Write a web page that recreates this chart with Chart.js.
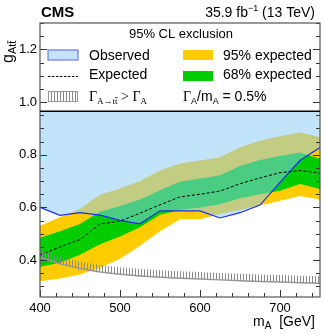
<!DOCTYPE html>
<html>
<head>
<meta charset="utf-8">
<script src="https://cdn.jsdelivr.net/npm/chart.js@4/dist/chart.umd.min.js"></script>
<style>
  html, body { margin: 0; padding: 0; background: #fff; }
</style>
</head>
<body>
<canvas id="myChart" width="324" height="335"></canvas>
<script>
const masses     = [400, 425, 450, 475, 500, 525, 550, 575, 600, 625, 650, 675, 700, 725, 750];
const observed   = [0.600, 0.570, 0.580, 0.571, 0.551, 0.538, 0.587, 0.587, 0.587, 0.560, 0.580, 0.609, 0.695, 0.778, 0.827];
const expected   = [0.420, 0.450, 0.478, 0.537, 0.548, 0.578, 0.610, 0.640, 0.650, 0.662, 0.690, 0.712, 0.732, 0.740, 0.730];
const band68Up   = [0.485, 0.510, 0.537, 0.585, 0.605, 0.630, 0.665, 0.697, 0.710, 0.722, 0.757, 0.780, 0.795, 0.808, 0.785];
const band68Lo   = [0.375, 0.390, 0.420, 0.460, 0.490, 0.525, 0.572, 0.590, 0.600, 0.612, 0.635, 0.650, 0.663, 0.689, 0.670];
const band95Up   = [0.530, 0.563, 0.595, 0.648, 0.672, 0.700, 0.740, 0.767, 0.778, 0.790, 0.828, 0.853, 0.870, 0.885, 0.866];
const band95Lo   = [0.320, 0.330, 0.345, 0.370, 0.405, 0.455, 0.510, 0.555, 0.555, 0.575, 0.590, 0.607, 0.625, 0.643, 0.630];
const widthLimit = [0.410, 0.386, 0.368, 0.355, 0.346, 0.340, 0.335, 0.331, 0.328, 0.325, 0.322, 0.319, 0.317, 0.314, 0.312];
const xTickLabels = [400, 500, 600, 700];
const yTickLabels = [0.4, 0.6, 0.8, 1.0, 1.2];
const legendLineY = 0.965;

const pts = arr => arr.map((v, i) => ({ x: masses[i], y: v }));
const SANS = '"Liberation Sans", Arial, sans-serif';
const SERIF = '"Liberation Serif", "Times New Roman", serif';

const OBS_FILL = 'rgba(140, 204, 246, 0.53)';
const YELLOW = '#ffcc00';
const GREEN = '#00cc00';

function hatchPattern(ctx) {
  const c = document.createElement('canvas');
  c.width = 3; c.height = 4;
  const g = c.getContext('2d');
  g.fillStyle = '#8a8a8a';
  g.fillRect(0, 0, 1, 4);
  return ctx.createPattern(c, 'repeat');
}

// draws a run of text pieces (font, text, dy) left to right
function drawRun(ctx, x, y, parts) {
  ctx.textAlign = 'left';
  ctx.textBaseline = 'alphabetic';
  for (const p of parts) {
    ctx.font = p.size + 'px ' + p.family;
    ctx.fillText(p.t, x, y + (p.dy || 0));
    const w = ctx.measureText(p.t).width;
    if (p.bar) {
      const bw = ctx.measureText('t').width;
      ctx.fillRect(x + w - bw, y + (p.dy || 0) - p.size * 0.78, bw, 0.8);
    }
    x += w;
  }
  return x;
}

const decorations = {
  id: 'decorations',
  afterDatasetsDraw(chart) {
    const ctx = chart.ctx;
    const area = chart.chartArea;
    const p = chart.getDatasetMeta(2).data;
    ctx.save();
    ctx.beginPath();
    ctx.rect(area.left, area.top, area.right - area.left, area.bottom - area.top);
    ctx.clip();
    ctx.beginPath();
    ctx.moveTo(p[0].x, p[0].y);
    for (let i = 1; i < p.length; i++) ctx.lineTo(p[i].x, p[i].y);
    for (let i = p.length - 1; i >= 0; i--) ctx.lineTo(p[i].x, p[i].y - 7);
    ctx.closePath();
    ctx.fillStyle = hatchPattern(ctx);
    ctx.fill();
    ctx.restore();
  },
  afterDraw(chart) {
    const ctx = chart.ctx;
    const area = chart.chartArea;
    const xs = chart.scales.x, ys = chart.scales.y;
    ctx.save();

    // white legend area above the separator line
    const sepY = ys.getPixelForValue(legendLineY);
    ctx.fillStyle = '#fff';
    ctx.fillRect(area.left, area.top, area.right - area.left, sepY - area.top);

    // ticks on the inside of the frame
    ctx.strokeStyle = '#333';
    ctx.lineWidth = 1;
    ctx.beginPath();
    for (let m = 400; m <= 750; m += 20) {
      const x = Math.round(xs.getPixelForValue(m)) + 0.5;
      const len = m % 100 === 0 ? 7 : 4;
      ctx.moveTo(x, area.bottom); ctx.lineTo(x, area.bottom - len);
    }
    for (let k = 6; k <= 26; k++) {
      const y = Math.round(ys.getPixelForValue(k * 0.05)) + 0.5;
      const len = k % 4 === 0 ? 7 : 4;
      ctx.moveTo(area.left, y); ctx.lineTo(area.left + len, y);
      ctx.moveTo(area.right, y); ctx.lineTo(area.right - len, y);
    }
    ctx.stroke();

    // frame
    ctx.strokeStyle = '#555';
    ctx.lineWidth = 1.2;
    ctx.strokeRect(area.left, area.top, area.right - area.left, area.bottom - area.top);

    // separator line
    ctx.strokeStyle = '#000';
    ctx.lineWidth = 1.5;
    ctx.beginPath();
    ctx.moveTo(area.left, sepY); ctx.lineTo(area.right, sepY);
    ctx.stroke();

    // legend
    ctx.fillStyle = '#000';
    ctx.font = '13px ' + SANS;
    ctx.textAlign = 'center';
    ctx.fillText('95% CL exclusion', 181, 38);

    ctx.fillStyle = '#c4e3f8';
    ctx.fillRect(48, 50, 30, 10);
    ctx.strokeStyle = '#6a78f0';
    ctx.lineWidth = 1.2;
    ctx.strokeRect(48, 50, 30, 10);
    ctx.fillStyle = YELLOW;
    ctx.fillRect(183, 50, 30, 10);
    ctx.fillStyle = GREEN;
    ctx.fillRect(183, 71, 30, 10);

    ctx.strokeStyle = '#000';
    ctx.lineWidth = 1;
    ctx.setLineDash([2.5, 1.5]);
    ctx.beginPath();
    ctx.moveTo(48, 76.5); ctx.lineTo(78, 76.5);
    ctx.stroke();
    ctx.setLineDash([]);

    ctx.fillStyle = hatchPattern(ctx);
    ctx.fillRect(48, 91, 30, 10);
    ctx.strokeStyle = '#999';
    ctx.lineWidth = 1;
    ctx.strokeRect(48.5, 91.5, 29, 10);

    ctx.fillStyle = '#000';
    ctx.font = '14px ' + SANS;
    ctx.textAlign = 'left';
    ctx.fillText('Observed', 89, 60);
    ctx.fillText('Expected', 89, 79);
    ctx.fillText('95% expected', 223, 60);
    ctx.fillText('68% expected', 223, 79);

    drawRun(ctx, 89, 101, [
      { t: 'Γ', size: 14, family: SERIF },
      { t: 'A→tt', size: 9, family: SERIF, dy: 3, bar: true },
      { t: ' > Γ', size: 14, family: SERIF },
      { t: 'A', size: 9, family: SERIF, dy: 3 }
    ]);
    drawRun(ctx, 183, 101, [
      { t: 'Γ', size: 14, family: SERIF },
      { t: 'A', size: 9, family: SANS, dy: 3 },
      { t: '/m', size: 14, family: SANS },
      { t: 'A', size: 9, family: SANS, dy: 3 },
      { t: ' = 0.5%', size: 14, family: SANS }
    ]);

    // header texts
    ctx.font = 'bold 15px ' + SANS;
    ctx.fillText('CMS', 41, 17);
    ctx.font = '14px ' + SANS;
    const a = '35.9 fb', s = '\u22121', b = ' (13 TeV)';
    const wa = ctx.measureText(a).width, wb = ctx.measureText(b).width;
    ctx.font = '9px ' + SANS;
    const ws = ctx.measureText(s).width;
    const x0 = 315 - wa - ws - wb;
    ctx.font = '14px ' + SANS;
    ctx.fillText(a, x0, 17);
    ctx.font = '9px ' + SANS;
    ctx.fillText(s, x0 + wa, 11);
    ctx.font = '14px ' + SANS;
    ctx.fillText(b, x0 + wa + ws, 17);

    // x axis title
    ctx.font = '14px ' + SANS;
    const m1 = ctx.measureText('m').width, m3 = ctx.measureText('  [GeV]').width;
    ctx.font = '10px ' + SANS;
    const m2 = ctx.measureText('A').width;
    drawRun(ctx, 315 - m1 - m2 - m3, 326, [
      { t: 'm', size: 14, family: SANS },
      { t: 'A', size: 10, family: SANS, dy: 3 },
      { t: '  [GeV]', size: 14, family: SANS }
    ]);

    // y axis title
    ctx.save();
    ctx.translate(13, 63);
    ctx.rotate(-Math.PI / 2);
    drawRun(ctx, 0, 0, [
      { t: 'g', size: 16, family: SANS },
      { t: 'Att', size: 11, family: SANS, dy: 3, bar: true }
    ]);
    ctx.restore();

    ctx.restore();
  }
};

const ctx = document.getElementById('myChart');

new Chart(ctx, {
  type: 'line',
  data: {
    datasets: [
      {
        label: 'Observed',
        data: pts(observed),
        borderColor: '#1a2cf0',
        borderWidth: 1.2,
        backgroundColor: OBS_FILL,
        fill: { value: legendLineY },
        order: 1
      },
      {
        label: 'Expected',
        data: pts(expected),
        borderColor: '#000',
        borderWidth: 1,
        borderDash: [3, 2],
        fill: false,
        order: 0
      },
      {
        label: 'width limit',
        data: pts(widthLimit),
        borderColor: '#999',
        borderWidth: 1.5,
        fill: false,
        order: 2
      },
      {
        label: '68% up',
        data: pts(band68Up),
        borderWidth: 0,
        borderColor: 'rgba(0,0,0,0)',
        backgroundColor: GREEN,
        fill: '+1',
        order: 3
      },
      {
        label: '68% lo',
        data: pts(band68Lo),
        borderWidth: 0,
        borderColor: 'rgba(0,0,0,0)',
        fill: false,
        order: 3
      },
      {
        label: '95% up',
        data: pts(band95Up),
        borderWidth: 0,
        borderColor: 'rgba(0,0,0,0)',
        backgroundColor: YELLOW,
        fill: '+1',
        order: 5
      },
      {
        label: '95% lo',
        data: pts(band95Lo),
        borderWidth: 0,
        borderColor: 'rgba(0,0,0,0)',
        fill: false,
        order: 5
      }
    ]
  },
  options: {
    responsive: false,
    animation: false,
    devicePixelRatio: 1,
    layout: { padding: { top: 23, right: 4, left: 0, bottom: 0 } },
    elements: { point: { radius: 0 }, line: { tension: 0 } },
    plugins: {
      legend: { display: false },
      tooltip: { enabled: false }
    },
    scales: {
      x: {
        type: 'linear',
        min: 400,
        max: 750,
        afterBuildTicks: s => { s.ticks = xTickLabels.map(v => ({ value: v })); },
        afterFit: s => { s.height = 38; },
        grid: { display: false, drawTicks: false },
        border: { display: false },
        ticks: {
          padding: 4,
          color: '#000',
          maxRotation: 0,
          font: { family: SANS, size: 13 }
        }
      },
      y: {
        min: 0.26,
        max: 1.30,
        afterBuildTicks: s => { s.ticks = yTickLabels.map(v => ({ value: v })); },
        afterFit: s => { s.width = 40; },
        grid: { display: false, drawTicks: false },
        border: { display: false },
        ticks: {
          padding: 3,
          color: '#000',
          font: { family: SANS, size: 13 },
          callback: v => v.toFixed(1)
        }
      }
    }
  },
  plugins: [decorations]
});
</script>
</body>
</html>
